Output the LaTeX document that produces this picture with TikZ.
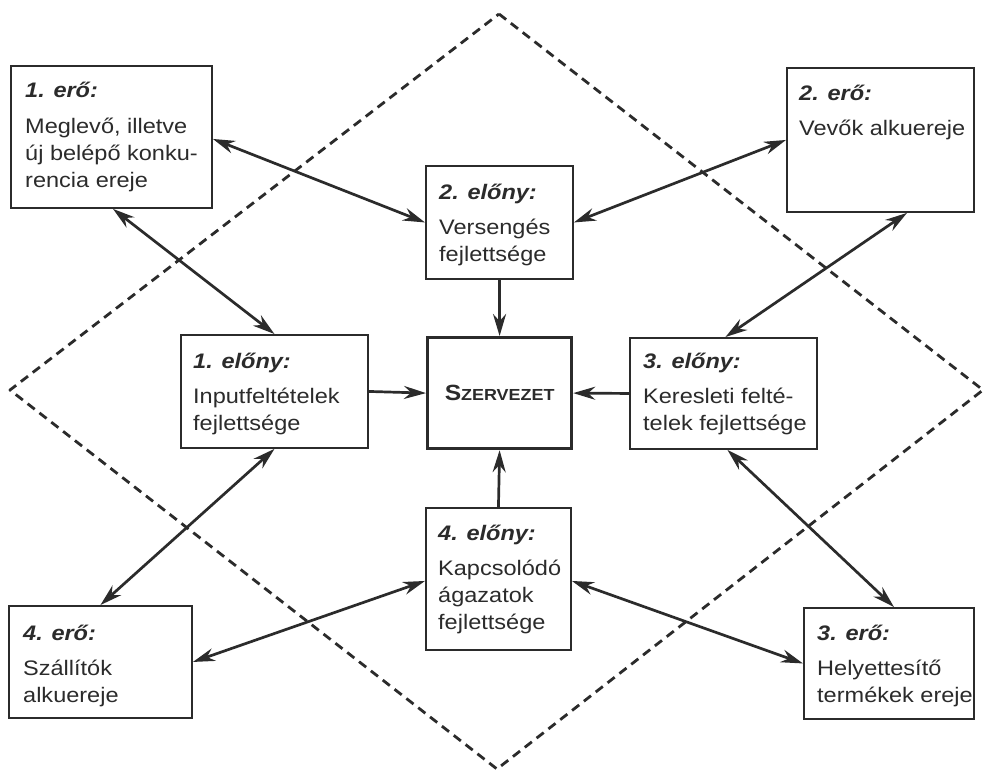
\documentclass[tikz,border=0pt]{standalone}
\usepackage{fontspec}
\setmainfont[FakeStretch=1.12]{Liberation Sans}
\usetikzlibrary{arrows.meta,calc}
\definecolor{ink}{gray}{0.17}

\tikzset{
  box/.style={draw=ink, line width=1.9pt, inner sep=0pt, anchor=north west},
  core/.style={draw=ink, line width=3.2pt, inner sep=0pt, anchor=north west},
  % anchored at the baseline of the last line of the text
  txt/.style={anchor=base west, inner sep=0pt, align=left, text=ink,
              font=\fontsize{21}{27}\selectfont},
  link/.style={draw=ink, line width=2.7pt, <->},
  feed/.style={draw=ink, line width=2.7pt, ->},
  border/.style={draw=ink, line width=2.8pt, dash pattern=on 9pt off 6pt, line join=round}
}
\newcommand\hd[1]{\textbf{\textit{#1}}}

\begin{document}
\begin{tikzpicture}[x=1pt, y=-1pt, >={Stealth[length=22pt,width=13pt]}]
  \fill[white] (0,0) rectangle (985,774);
  \useasboundingbox (0,0) rectangle (985,774);

  % dashed diamond
  \coordinate (dt) at (499,14);
  \coordinate (dr) at (983,390);
  \coordinate (db) at (497,769);
  \coordinate (dl) at (10,390);
  \draw[border] (dt) -- (dr) -- (db) -- (dl) -- cycle;

  % boxes
  \node[box, minimum width=201pt, minimum height=142pt] (e1) at (10,65) {};
  \node[box, minimum width=187pt, minimum height=144pt] (e2) at (786,67) {};
  \node[box, minimum width=170pt, minimum height=111pt] (e3) at (803,607) {};
  \node[box, minimum width=183pt, minimum height=112pt] (e4) at (8,605) {};
  \node[box, minimum width=187pt, minimum height=113pt] (v1) at (180,334) {};
  \node[box, minimum width=147pt, minimum height=113pt] (v2) at (425,165) {};
  \node[box, minimum width=187pt, minimum height=111pt] (v3) at (629,337) {};
  \node[box, minimum width=145pt, minimum height=142pt] (v4) at (425,507) {};
  \node[core, minimum width=144pt, minimum height=111pt] (S) at (426,336) {};

  % box texts
  \node[txt] (e1t) at ($(e1.north west)+(15,122)$)
    {\hd{1. erő:}\\[9pt]Meglevő, illetve\\új belépő konku-\\rencia ereje};
  \node[txt] (e2t) at ($(e2.north west)+(13,68)$)
    {\hd{2. erő:}\\[8pt]Vevők alkuereje};
  \node[txt] (e3t) at ($(e3.north west)+(14,95)$)
    {\hd{3. erő:}\\[8pt]Helyettesítő\\termékek ereje};
  \node[txt] (e4t) at ($(e4.north west)+(15,97)$)
    {\hd{4. erő:}\\[8pt]Szállítók\\alkuereje};
  \node[txt] (v1t) at ($(v1.north west)+(13,96)$)
    {\hd{1. előny:}\\[8pt]Inputfeltételek\\fejlettsége};
  \node[txt] (v2t) at ($(v2.north west)+(14,96)$)
    {\hd{2. előny:}\\[8pt]Versengés\\fejlettsége};
  \node[txt] (v3t) at ($(v3.north west)+(14,93)$)
    {\hd{3. előny:}\\[8pt]Keresleti felté-\\telek fejlettsége};
  \node[txt] (v4t) at ($(v4.north west)+(13,122)$)
    {\hd{4. előny:}\\[8pt]Kapcsolódó\\ágazatok\\fejlettsége};
  \node[text=ink, font=\bfseries, inner sep=0pt] (St) at (S.center)
    {{\fontsize{22}{22}\selectfont S}{\fontsize{16}{16}\selectfont ZERVEZET}};

  % two-way links between forces and advantages
  \draw[link] ([yshift=-2pt]e1.east) -- (v2.west);
  \draw[link] (v2.east) -- (e2.west);
  \draw[link] ([xshift=103pt]e1.south west) -- (v1.north);
  \draw[link] ([xshift=121pt]e2.south west) -- ([xshift=2pt]v3.north);
  \draw[link] (v1.south) -- (e4.north);
  \draw[link] ([xshift=4pt]v3.south) -- ([xshift=5pt]e3.north);
  \draw[link] (e4.east) -- ([yshift=-2pt]v4.west);
  \draw[link] ([yshift=-2pt]v4.east) -- (e3.west);

  % advantages feeding the organisation
  \draw[feed] (v2.south) -- (S.north);
  \draw[feed] (v1.east) -- (S.west);
  \draw[feed] (v3.west) -- (S.east);
  \draw[feed] (v4.north) -- (S.south);
\end{tikzpicture}
\end{document}
